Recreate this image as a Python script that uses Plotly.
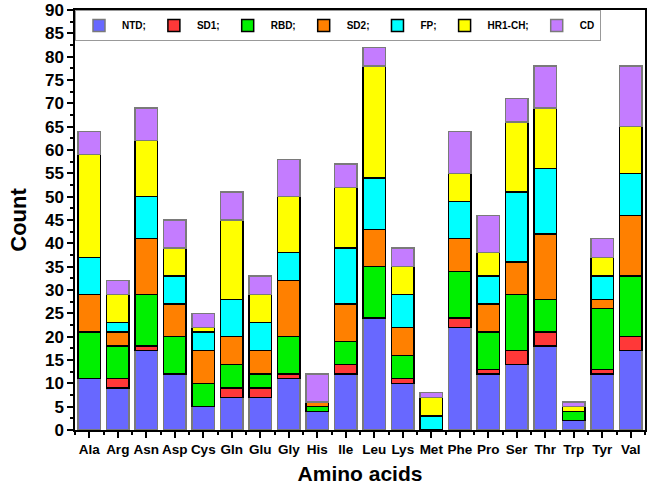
import plotly.graph_objects as go

amino_acids = ["Ala", "Arg", "Asn", "Asp", "Cys", "Gln", "Glu", "Gly", "His", "Ile",
               "Leu", "Lys", "Met", "Phe", "Pro", "Ser", "Thr", "Trp", "Tyr", "Val"]

NTD = [11, 9, 17, 12, 5, 7, 7, 11, 4, 12, 24, 10, 0, 22, 12, 14, 18, 2, 12, 17]
SD1 = [0, 2, 1, 0, 0, 2, 2, 1, 0, 2, 0, 1, 0, 2, 1, 3, 3, 0, 1, 3]
RBD = [10, 7, 11, 8, 5, 5, 3, 8, 1, 5, 11, 5, 0, 10, 8, 12, 7, 2, 13, 13]
SD2 = [8, 3, 12, 7, 7, 6, 5, 12, 1, 8, 8, 6, 0, 7, 6, 7, 14, 0, 2, 13]
FP = [8, 2, 9, 6, 4, 8, 6, 6, 0, 12, 11, 7, 3, 8, 6, 15, 14, 0, 5, 9]
HR1_CH = [22, 6, 12, 6, 1, 17, 6, 12, 0, 13, 24, 6, 4, 6, 5, 15, 13, 1, 4, 10]
CD = [5, 3, 7, 6, 3, 6, 4, 8, 6, 5, 4, 4, 1, 9, 8, 5, 9, 1, 4, 13]

series = [
    ("NTD;", NTD, "#6868FF", "#7a7a7a"),
    ("SD1;", SD1, "#FF3838", "black"),
    ("RBD;", RBD, "#00F000", "black"),
    ("SD2;", SD2, "#FF8000", "black"),
    ("FP;", FP, "#00FFFF", "black"),
    ("HR1-CH;", HR1_CH, "#FFFF00", "black"),
    ("CD", CD, "#C47CFF", "#7a7a7a"),
]

xpos = list(range(len(amino_acids)))

fig = go.Figure()
for name, vals, color, lc in series:
    fig.add_trace(go.Bar(
        x=xpos, y=vals, name=name, width=0.8,
        marker=dict(color=color, line=dict(color=lc, width=1.5)),
    ))

font = "Arial, Liberation Sans, sans-serif"
fig.update_layout(
    barmode="stack",
    width=648, height=488,
    margin=dict(l=75, r=3, t=10, b=58, autoexpand=False),
    plot_bgcolor="white", paper_bgcolor="white",
    font=dict(family=font, color="black"),
    legend=dict(
        orientation="h", x=0.0, y=1.0, xanchor="left", yanchor="top",
        bgcolor="white", bordercolor="#999999", borderwidth=1,
        font=dict(size=10, family=font, color="black", weight="bold"),
        traceorder="normal", itemwidth=36, tracegroupgap=0,
    ),
    xaxis=dict(
        range=[-0.5, 19.5], automargin=False,
        tickvals=xpos, ticktext=amino_acids, tickangle=0,
        tickfont=dict(size=13.5, family=font, color="black", weight="bold"),
        ticks="outside", ticklen=6, tickwidth=1.5, tickcolor="black",
        minor=dict(tick0=0.5, dtick=1, ticks="outside", ticklen=3, tickwidth=1.5, tickcolor="black"),
        showline=True, linecolor="black", linewidth=1.5, mirror=True,
        showgrid=False, zeroline=False, ticklabeloverflow="allow",
        title=dict(text="Amino acids", font=dict(size=21, family=font, color="black", weight="bold"), standoff=10),
    ),
    yaxis=dict(
        range=[0, 90], dtick=5, tick0=0, automargin=False,
        tickfont=dict(size=17, family=font, color="black", weight="bold"),
        ticks="outside", ticklen=6, tickwidth=1.5, tickcolor="black",
        minor=dict(dtick=2.5, ticks="outside", ticklen=3, tickwidth=1.5, tickcolor="black"),
        showline=True, linecolor="black", linewidth=1.5, mirror=True,
        showgrid=False, zeroline=False, ticklabeloverflow="allow",
        title=dict(text="Count", font=dict(size=22, family=font, color="black", weight="bold"), standoff=12),
    ),
)

fig.write_html("out.html", config={"displayModeBar": False},
               post_script="document.body.style.margin='0px';")
